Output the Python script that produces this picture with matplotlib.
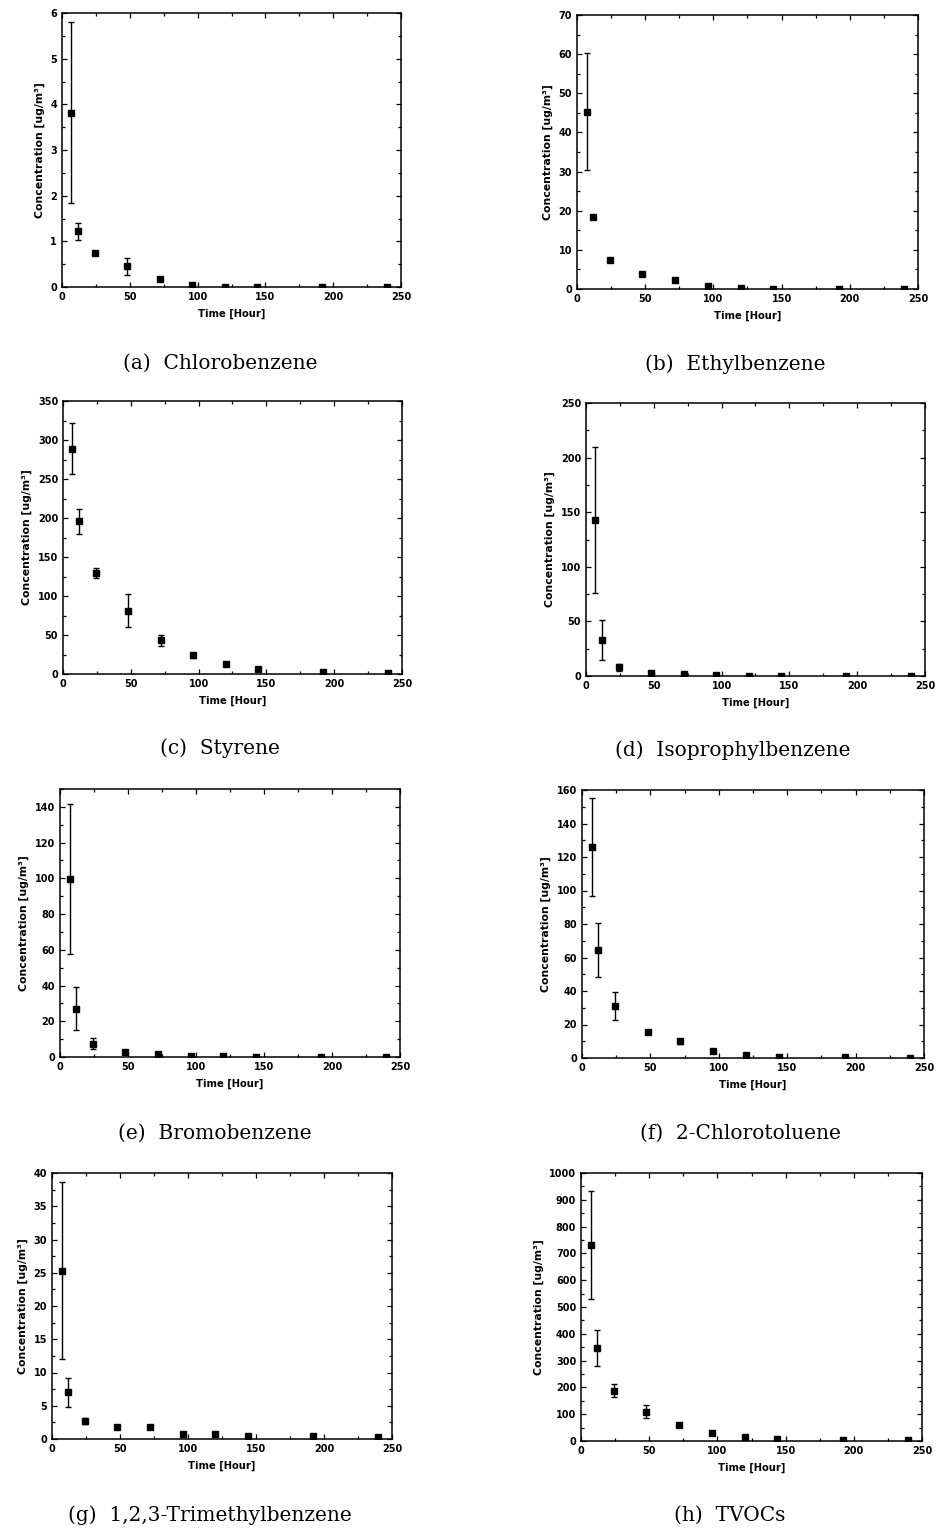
import numpy as np
import matplotlib
matplotlib.use("Agg")
import matplotlib.pyplot as plt
from matplotlib.ticker import MultipleLocator

W, H = 937, 1531

TIME = [7, 12, 24, 48, 72, 96, 120, 144, 192, 240]

# mean concentration and error bar half-widths (ug/m3)
chloro = [3.82, 1.22, 0.74, 0.45, 0.18, 0.05, 0.01, 0.01, 0.01, 0.01]
chloro_err = [1.98, 0.18, 0, 0.18, 0, 0, 0, 0, 0, 0]

ethyl = [45.3, 18.4, 7.3, 3.8, 2.2, 0.8, 0.2, 0.1, 0.1, 0.1]
ethyl_err = [15.0, 0, 0, 0, 0, 0, 0, 0, 0, 0]

styrene = [289, 196, 130, 81, 43, 24, 13, 7, 3, 1]
styrene_err = [33, 16, 6.5, 21, 6.5, 3, 0, 0, 0, 0]

isoprop = [143, 33, 8, 3, 1.5, 0.5, 0.3, 0.2, 0.2, 0.1]
isoprop_err = [67, 18, 3, 0, 0, 0, 0, 0, 0, 0]

bromo = [99.5, 27, 7.5, 3, 1.5, 0.5, 0.3, 0.2, 0.1, 0.1]
bromo_err = [42, 12, 3, 0, 0, 0, 0, 0, 0, 0]

chlorotol = [126, 64.5, 31, 15.5, 10, 4, 2, 0.8, 0.3, 0.2]
chlorotol_err = [29, 16, 8.2, 0, 1.5, 0, 0, 0, 0, 0]

trimethyl = [25.3, 7.0, 2.7, 1.8, 1.8, 0.8, 0.7, 0.4, 0.4, 0.3]
trimethyl_err = [13.3, 2.15, 0.4, 0, 0, 0, 0, 0, 0, 0]

tvoc = [732, 347, 188, 110, 60, 30, 15, 8, 4, 2]
tvoc_err = [202, 66, 24, 25, 0, 0, 0, 0, 0, 0]

CAPTIONS = ["(a)  Chlorobenzene", "(b)  Ethylbenzene", "(c)  Styrene",
            "(d)  Isoprophylbenzene", "(e)  Bromobenzene", "(f)  2-Chlorotoluene",
            "(g)  1,2,3-Trimethylbenzene", "(h)  TVOCs"]
SERIES = [chloro, ethyl, styrene, isoprop, bromo, chlorotol, trimethyl, tvoc]
ERRORS = [chloro_err, ethyl_err, styrene_err, isoprop_err, bromo_err,
          chlorotol_err, trimethyl_err, tvoc_err]
YMAX = [6, 70, 350, 250, 150, 160, 40, 1000]
YSTEP = [1, 10, 50, 50, 20, 20, 5, 100]

# axes boxes in pixels: left, right, top, bottom
BOXES = [(62, 401, 13, 287), (577, 918, 15, 289),
         (63, 402, 401, 674), (586, 925, 403, 676),
         (60, 400, 789, 1057), (582, 924, 790, 1058),
         (52, 392, 1173, 1439), (581, 922, 1173, 1441)]
CAP_Y = [363, 364, 748, 750, 1133, 1133, 1515, 1515]
CAP_X = [220, 735, 220, 733, 215, 740, 210, 730]

plt.rcParams["font.family"] = "DejaVu Sans"
fig = plt.figure(figsize=(W / 100, H / 100), dpi=100)

for i in range(8):
    l, r, t, b = BOXES[i]
    ax = fig.add_axes([l / W, 1 - b / H, (r - l) / W, (b - t) / H])
    ax.errorbar(TIME, SERIES[i], yerr=ERRORS[i], fmt="s", color="k",
                ms=5, elinewidth=1.0, capsize=2.5, capthick=1.0)
    ax.set_xlim(0, 250)
    ax.set_ylim(0, YMAX[i])
    ax.xaxis.set_major_locator(MultipleLocator(50))
    ax.xaxis.set_minor_locator(MultipleLocator(25))
    ax.yaxis.set_major_locator(MultipleLocator(YSTEP[i]))
    ax.yaxis.set_minor_locator(MultipleLocator(YSTEP[i] / 2))
    ax.tick_params(which="both", direction="in", top=True, right=True,
                   labelsize=7, width=0.9)
    ax.tick_params(which="major", length=3.5)
    ax.tick_params(which="minor", length=2)
    for lab in ax.get_xticklabels() + ax.get_yticklabels():
        lab.set_fontweight("bold")
    for s in ax.spines.values():
        s.set_linewidth(1.1)
    ax.set_xlabel("Time [Hour]", fontsize=7.2, fontweight="bold", labelpad=5)
    ax.set_ylabel("Concentration [ug/m³]", fontsize=7.8, fontweight="bold",
                  labelpad=4)
    fig.text(CAP_X[i] / W, 1 - CAP_Y[i] / H, CAPTIONS[i], ha="center",
             va="center", fontsize=14.5, family="DejaVu Serif")

fig.savefig("out.png", dpi=100)
